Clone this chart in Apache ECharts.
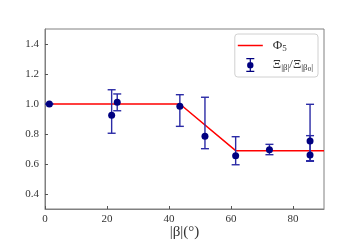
<!DOCTYPE html>
<html><head><meta charset="utf-8">
<script src="https://cdn.jsdelivr.net/npm/echarts@6/dist/echarts.min.js"></script>
<style>html,body{margin:0;padding:0;background:#fff}#c{width:360px;height:240px}</style>
</head><body><div id="c"></div>
<script>
// data
const betaX   = [1.4, 21.5, 23.3, 43.5, 51.6, 61.5, 72.4, 85.5, 85.5];
const ratioY  = [1.0, 0.925, 1.011, 0.985, 0.785, 0.655, 0.695, 0.753, 0.66];
const errLow  = [1.0, 0.805, 0.955, 0.851, 0.702, 0.595, 0.662, 0.618, 0.622];
const errHigh = [1.0, 1.095, 1.067, 1.062, 1.045, 0.782, 0.731, 0.998, 0.789];
const phiX = [1.4, 43.5, 61.5, 90];
const phiY = [1.0, 1.0, 0.689, 0.689];
const xTicks = [0, 20, 40, 60, 80];
const yTicks = [0.4, 0.6, 0.8, 1.0, 1.2, 1.4];

const serif = 'Liberation Serif';
const navy = '#000080';
const errCol = '#2b2ba6';

const chart = echarts.init(document.getElementById('c'), null, {renderer: 'canvas'});
const pts = betaX.map((x, i) => [x, ratioY[i]]);
const errs = betaX.map((x, i) => [x, errLow[i], errHigh[i]]);
const phi = phiX.map((x, i) => [x, phiY[i]]);

const axisCommon = {
  axisLine: {show: true, onZero: false, lineStyle: {color: '#808080', width: 1}},
  axisTick: {show: true, inside: true, length: 3, lineStyle: {color: '#555'}},
  splitLine: {show: false},
  axisLabel: {fontFamily: serif, fontSize: 11, color: '#333'}
};

chart.setOption({
  animation: false,
  grid: {left: 45, right: 36, top: 29, bottom: 31, show: true, borderColor: '#808080', borderWidth: 1,
    outerBoundsMode: 'none', containLabel: false},
  xAxis: Object.assign({}, axisCommon, {
    type: 'value', min: 0, max: 90,
    axisTick: Object.assign({}, axisCommon.axisTick, {customValues: xTicks}),
    axisLabel: Object.assign({}, axisCommon.axisLabel, {customValues: xTicks, margin: 5}),
    name: '|β|(°)', nameLocation: 'middle', nameGap: 16, nameMoveOverlap: false,
    nameTextStyle: {fontFamily: serif, fontSize: 15, color: '#333', verticalAlign: 'top'}
  }),
  yAxis: Object.assign({}, axisCommon, {
    type: 'value', min: 0.3, max: 1.5,
    axisTick: Object.assign({}, axisCommon.axisTick, {customValues: yTicks}),
    axisLabel: Object.assign({}, axisCommon.axisLabel, {customValues: yTicks, margin: 6,
      formatter: v => v.toFixed(1)})
  }),
  legend: {
    orient: 'vertical', right: 42, top: 34,
    backgroundColor: '#fff', borderColor: '#d0d0d0', borderWidth: 1, borderRadius: 3,
    padding: [5, 5, 4, 3], itemGap: 5, itemWidth: 25, itemHeight: 14,
    data: [
      {name: 'phi', icon: 'path://M0,6.3h25v1.5h-25z', itemStyle: {color: 'red'}},
      {name: 'xi', icon: 'path://M1,0h8v1.3h-8zM4.4,0h1.2v14h-1.2zM1,12.7h8v1.3h-8zM5,4a3.2,3.2 0 1,1 -0.01,0z', itemStyle: {color: navy}}
    ],
    formatter: n => n === 'phi' ? '{a|Φ}{s|5}' : '{a|Ξ}{s||β|}{a|/Ξ}{s||β}{t|0}{s||}',
    textStyle: {
      fontFamily: serif, color: '#333', padding: [0, 0, 0, 5],
      rich: {
        a: {fontFamily: serif, fontSize: 13, color: '#333'},
        s: {fontFamily: serif, fontSize: 9, color: '#333', padding: [6, 0, 0, 0]},
        t: {fontFamily: serif, fontSize: 7, color: '#333', padding: [9, 0, 0, 0]}
      }
    }
  },
  series: [
    {name: 'phi', type: 'line', data: phi, symbol: 'none', lineStyle: {color: 'red', width: 1.5}, itemStyle: {color: 'red'}, z: 2},
    {name: 'xierr', type: 'custom', data: errs, z: 3,
      renderItem: (params, api) => {
        const x = api.value(0);
        const lo = api.coord([x, api.value(1)]);
        const hi = api.coord([x, api.value(2)]);
        const cw = 4;
        const st = {stroke: errCol, lineWidth: 1.4};
        return {type: 'group', children: [
          {type: 'line', shape: {x1: lo[0], y1: lo[1], x2: hi[0], y2: hi[1]}, style: st},
          {type: 'line', shape: {x1: lo[0]-cw, y1: lo[1], x2: lo[0]+cw, y2: lo[1]}, style: st},
          {type: 'line', shape: {x1: hi[0]-cw, y1: hi[1], x2: hi[0]+cw, y2: hi[1]}, style: st}
        ]};
      }
    },
    {name: 'xi', type: 'scatter', data: pts, symbol: 'circle', symbolSize: 7, itemStyle: {color: navy, opacity: 1}, z: 4}
  ]
});
</script></body></html>
